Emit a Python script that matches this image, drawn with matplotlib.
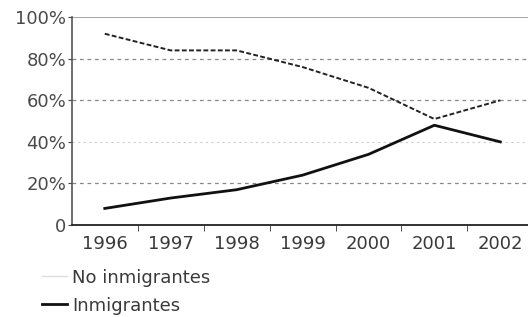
import matplotlib.pyplot as plt
from matplotlib.lines import Line2D

# =========================
# DATA
# =========================

years = [1996, 1997, 1998, 1999, 2000, 2001, 2002]
no_inmigrantes = [92, 84, 84, 76, 66, 51, 60]
inmigrantes = [8, 13, 17, 24, 34, 48, 40]

y_ticks = [0, 20, 40, 60, 80, 100]
y_labels = ['0', '20%', '40%', '60%', '80%', '100%']

# =========================
# PLOT
# =========================

plt.rcParams['font.family'] = 'DejaVu Sans'

fig = plt.figure(figsize=(5.28, 3.17), dpi=100)
ax = fig.add_axes([0.136, 0.29, 0.864, 0.656])

for v in [20, 60, 80]:
    ax.axhline(v, color='#888888', linestyle=(0, (3, 3)), linewidth=0.9, zorder=1)
ax.axhline(40, color='#cccccc', linestyle=(0, (2, 3)), linewidth=0.8, zorder=1)
ax.axhline(100, color='#aaaaaa', linewidth=1.5, zorder=1)

ax.plot(years, no_inmigrantes, color='#222222', linestyle=(0, (2.5, 1.2)), linewidth=1.4, zorder=3)
ax.plot(years, inmigrantes, color='#111111', linewidth=2.0, zorder=3)

ax.set_xlim(1995.5, 2002.42)
ax.set_ylim(0, 100)
ax.set_yticks(y_ticks)
ax.set_yticklabels(y_labels)
ax.set_xticks(years)
ax.set_xticklabels([str(y) for y in years])
ax.set_xticks([y + 0.5 for y in years[:-1]], minor=True)

ax.tick_params(axis='x', which='major', length=0, pad=7, labelsize=13, labelcolor='#3a3a3a')
ax.tick_params(axis='x', which='minor', length=4, color='#333333')
ax.tick_params(axis='y', length=3, pad=1, labelsize=13, labelcolor='#4a4a4a', color='#444444')

for s in ['top', 'right']:
    ax.spines[s].set_visible(False)
ax.spines['left'].set_color('#555555')
ax.spines['left'].set_linewidth(1.2)
ax.spines['bottom'].set_color('#222222')
ax.spines['bottom'].set_linewidth(1.3)

handles = [
    Line2D([], [], color='#dddddd', linewidth=1.0),
    Line2D([], [], color='#111111', linewidth=2.0),
]
fig.legend(handles, ['No inmigrantes', 'Inmigrantes'], loc='upper left',
           bbox_to_anchor=(0.065, 0.175), frameon=False, fontsize=13,
           handlelength=1.4, handletextpad=0.3, labelspacing=0.55,
           labelcolor='#3a3a3a', borderaxespad=0)

plt.savefig('out.png', dpi=100)
